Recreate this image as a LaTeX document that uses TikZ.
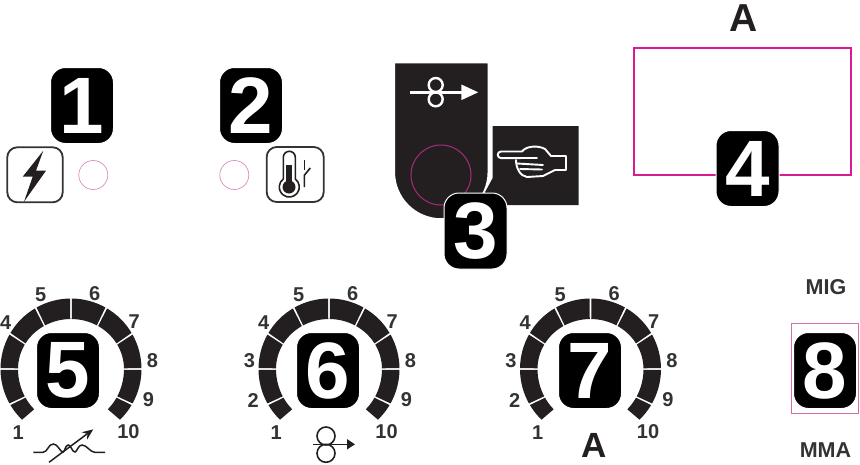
\documentclass[tikz,border=0pt]{standalone}
\usepackage{fontspec}
\setmainfont{Liberation Sans}
\usepackage{xcolor}
\usetikzlibrary{arrows.meta}

\definecolor{panelblack}{HTML}{231F20}
\definecolor{numgray}{HTML}{333333}
\definecolor{framepink}{HTML}{D81B93}
\definecolor{lamppink}{HTML}{D98CBC}
\definecolor{ringpink}{HTML}{A82C7C}

% ring of ten segments, centre in #2,#3
\newcommand{\dial}[3]{
    \begin{scope}[shift={(#2,#3)}]
        \foreach \from/\to/\ry in {-226/-210.8/56, -209.2/-180.8/56, -179.2/-150.8/50, -149.2/-120.8/50, -119.2/-90.8/50,
                -89.2/-60.8/50, -59.2/-30.8/50, -29.2/-0.8/50, 0.8/29.2/56, 30.8/46/56}
            \fill[panelblack] (\from:70.5) arc[start angle=\from, end angle=\to, radius=70.5]
                -- (\to:53 and \ry) arc[start angle=\to, end angle=\from, x radius=53, y radius=\ry] -- cycle;
    \end{scope}
}
% numbers round a dial, #4 is a list of number/dx/dy
\newcommand{\dialnumbers}[4]{
    \begin{scope}[shift={(#2,#3)}]
        \foreach \num/\dx/\dy in #4
            \node[dialnum] (#1-\num) at (\dx,\dy) {\num};
    \end{scope}
}
\newcommand{\numsleft}{1/-52.8/64, 2/-75.8/31.7}
\newcommand{\numsmiddle}{3/-79.5/-8.3}
\newcommand{\numsright}{4/-65.2/-46.3, 5/-30.2/-74.7, 6/23.8/-75.7, 7/63.2/-47.3,
    8/81.5/-8.3, 9/77.5/30.3, 10/57.5/63}

\begin{document}
\begin{tikzpicture}[
        x=1pt, y=-1pt,
        >=Stealth,
        badge/.style={rectangle, fill=black, draw=white, line width=1pt, rounded corners=15pt, minimum width=63pt, minimum height=76pt,
            inner sep=0pt, text=white, font=\fontsize{80}{80}\selectfont\bfseries},
        dialnum/.style={inner sep=0pt, text=numgray, font=\fontsize{20}{20}\selectfont\bfseries},
        modelabel/.style={inner sep=0pt, text=numgray, font=\fontsize{21.5}{22}\selectfont\bfseries},
        amplabel/.style={inner sep=0pt, text=panelblack, font=\fontsize{35}{35}\selectfont\bfseries},
        iconbox/.style={rectangle, draw=numgray, line width=1.8pt, rounded corners=10pt, minimum height=55pt, inner sep=0pt},
        lamp/.style={circle, draw=lamppink, line width=0.7pt, minimum size=29pt, inner sep=0pt},
        handline/.style={draw=white, line width=1.9pt, line cap=round, line join=round},
        iconline/.style={draw=panelblack, line width=1.6pt},
    ]
    \clip (0,0) rectangle (860,464);

    % === TOP LEFT: LAMPS ===
    \node[iconbox, minimum width=55.4pt] (boltbox) at (35,174.8) {};
    \fill[panelblack] (43.3,150.7) -- (22.7,176.7) -- (32.7,176.7) -- (24,201.7) -- (46,170.7) -- (36,170.7) -- cycle;
    \node[lamp] (lampbolt) at (93.3,175) {};
    \node[badge] (badge1) at (82,105.5) {1};

    \node[lamp] (lamptemp) at (234.3,175) {};
    \node[iconbox, minimum width=57pt] (tempbox) at (295.2,174.5) {};
    \draw[iconline] (283.3,179) -- (283.3,157.3) arc[start angle=180, end angle=360, radius=6]
        -- (295.3,179) arc[start angle=-53.13, end angle=233.13, radius=10];
    \fill[panelblack] (286,165.3) rectangle (292,187);
    \fill[panelblack] (289,187) circle[radius=6.5];
    \draw[iconline] (304.3,160.3) -- (304.3,170.3);
    \draw[iconline] (304.3,187) -- (304.3,175.3) -- (310.3,168);
    \node[badge] (badge2) at (251,105.5) {2};

    % === WIRE PANEL ===
    \fill[panelblack] (492.7,126) -- (578.7,126) -- (578.7,205) -- (478,205) -- (492.7,178) -- cycle;
    \filldraw[fill=panelblack, draw=white, line width=1.5pt] (394.3,62.7) -- (488.3,62.7) -- (488.3,172)
        arc[start angle=0, end angle=180, radius=47] -- cycle;
    \draw[white, line width=2.4pt] (435.7,85) circle[radius=7];
    \draw[white, line width=2.4pt] (435.7,99.3) circle[radius=7];
    \draw[white, line width=2.4pt, -{Triangle[length=17pt, width=15pt]}] (410,92.3) -- (478.3,92.3);
    \draw[draw=ringpink, line width=1pt] (441,175) circle[radius=30];

    % hand
    \draw[handline] (522,151.5) -- (501,151.5) arc[start angle=270, end angle=90, radius=3.3] -- (537,158);
    \draw[handline] (522,151.5) .. controls (526,146) and (538,145) .. (545,149) -- (551,156) -- (566,156)
        -- (566,170) -- (555,170) -- (543,176) -- (527,177) .. controls (520,176) and (516,168) .. (516,160);
    \draw[handline] (517,163.5) -- (543,165);
    \draw[handline] (520,169) -- (542,169.5);
    \node[badge] (badge3) at (475.5,231) {3};

    % === DISPLAY ===
    \node[inner sep=0pt, text=panelblack, font=\fontsize{39}{39}\selectfont\bfseries] (amptop) at (744,18) {A};
    \node[rectangle, draw=framepink, line width=2pt, minimum width=216.7pt, minimum height=127pt] (display) at (742.7,111.2) {};
    \node[badge] (badge4) at (747.5,168.5) {4};

    % === DIALS ===
    \dial{dialv}{71}{369}
    \dialnumbers{dialv}{71}{369}{\numsleft}
    \dialnumbers{dialv}{71}{369}{\numsright}
    \node[badge] (badge5) at (68,370.5) {5};

    \dial{dialw}{329}{369}
    \dialnumbers{dialw}{329}{369}{\numsleft}
    \dialnumbers{dialw}{329}{369}{\numsmiddle}
    \dialnumbers{dialw}{329}{369}{\numsright}
    \node[badge] (badge6) at (328,370.5) {6};

    \dial{diala}{590.5}{369}
    \dialnumbers{diala}{590.5}{369}{\numsleft}
    \dialnumbers{diala}{590.5}{369}{\numsmiddle}
    \dialnumbers{diala}{590.5}{369}{\numsright}
    \node[badge] (badge7) at (590,370.5) {7};

    % icons below the dials
    \draw[iconline, line width=1.5pt] (33.3,452.3) -- (43,452.3) .. controls (48,452) and (48,444) .. (53.3,444)
        .. controls (58,444) and (60,452) .. (63,452) .. controls (65,452) and (65,445) .. (68.3,445)
        .. controls (71,445) and (72,452) .. (75,452) .. controls (77,452) and (78,445) .. (82,445)
        .. controls (87,445) and (90,452.3) .. (95,452.3) -- (105,452.3);
    \draw[iconline, line width=1.5pt, -{Stealth[length=11pt, width=9pt]}] (49,462.3) -- (93.3,429.3);

    \draw[iconline] (326,436) circle[radius=9];
    \draw[iconline] (326,453.3) circle[radius=9];
    \draw[iconline, -{Triangle[length=8pt, width=10pt]}] (313.3,444.3) -- (355,444.3);

    \node[amplabel] (ampdial) at (594.3,445.5) {A};

    % === MODE ===
    \node[modelabel] (mig) at (826,287) {MIG};
    \node[rectangle, draw=lamppink!80!purple, line width=0.8pt, minimum width=66.7pt, minimum height=90pt] (modeframe) at (824.7,368.3) {};
    \node[badge] (badge8) at (825,370.5) {8};
    \node[modelabel] (mma) at (825.5,450.5) {MMA};

\end{tikzpicture}
\end{document}
